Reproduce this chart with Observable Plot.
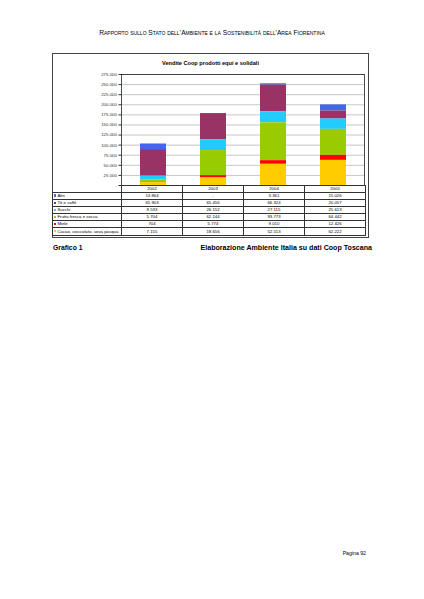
<!DOCTYPE html>
<html>
<head>
<meta charset="utf-8">
<script src="https://cdn.jsdelivr.net/npm/d3@7"></script>
<script src="https://cdn.jsdelivr.net/npm/@observablehq/plot@0.6"></script>
<style>
  html, body { margin: 0; padding: 0; background: #fff; }
  body { width: 424px; height: 599px; position: relative; overflow: hidden; font-family: "Liberation Sans", Arial, sans-serif; color: #000; }
  .abs { position: absolute; }
  #header { top: 28.5px; left: 0; width: 424px; text-align: center; font-size: 6.65px; font-variant: small-caps; white-space: nowrap; }
  #box { left: 52px; top: 53px; width: 317px; height: 185px; border: 1px solid #444; box-sizing: border-box; }
  #title { left: 52px; top: 59.5px; width: 317px; text-align: center; font-weight: bold; font-size: 5.6px; white-space: nowrap; }
  #chart { left: 52px; top: 66px; }
  #tbl { left: 52px; top: 185px; border-collapse: collapse; table-layout: fixed; font-size: 4.3px; }
  #tbl td { border: 0.8px solid #333; padding: 0; height: 6.1px; line-height: 6px; text-align: center; white-space: nowrap; overflow: hidden; }
  #tbl td.lab { text-align: left; padding-left: 1px; }
  #tbl td.blank { border: none; }
  #tbl tr.hdr td { height: 5.6px; }
  .sw { display: inline-block; width: 2.4px; height: 2.4px; margin-right: 1px; vertical-align: 0.2px; }
  #foot1 { left: 53px; top: 244px; font-weight: bold; font-size: 6.8px; }
  #foot2 { right: 52px; top: 244px; font-weight: bold; font-size: 7.1px; white-space: nowrap; }
  #page { right: 58px; top: 550px; font-size: 5.2px; }
</style>
</head>
<body>
<div id="header" class="abs">Rapporto sullo Stato dell’Ambiente e la Sostenibilità dell’Area Fiorentina</div>
<div id="box" class="abs"></div>
<div id="title" class="abs">Vendite Coop prodotti equi e solidali</div>
<div id="chart" class="abs"></div>
<table id="tbl" class="abs"></table>
<div id="foot1" class="abs">Grafico 1</div>
<div id="foot2" class="abs">Elaborazione Ambiente Italia su dati Coop Toscana</div>
<div id="page" class="abs">Pagina 92</div>
<script>
// ---- data ----
const years = ["2002", "2003", "2004", "2005"];
const series = ["Altri", "Tè e caffè", "Succhi", "Frutta fresca e secca", "Miele", "Cacao, cioccolato, uova pasqua"];
const altri  = [13864, null, 3361, 15026];
const teCaffe = [65903, 65456, 66324, 20057];
const succhi = [9533, 26152, 27115, 25613];
const frutta = [5704, 62144, 93773, 64442];
const miele  = [704, 5774, 9010, 12426];
const cacao  = [7155, 18656, 52513, 62222];
const colors = ["#4466EE", "#993366", "#22CCFF", "#99CC00", "#FF0000", "#FFCC00"];
const yTicks = [0, 25000, 50000, 75000, 100000, 125000, 150000, 175000, 200000, 225000, 250000, 275000];

const valuesBySeries = [altri, teCaffe, succhi, frutta, miele, cacao];
const rows = [];
series.forEach((s, i) => years.forEach((y, j) => {
  rows.push({series: s, year: y, value: valuesBySeries[i][j] ?? 0});
}));

const fmt = v => v == null ? "-" : (v === 0 ? "-" : d3.format(",")(v).replace(/,/g, "."));
const stackOrder = series.slice().reverse();

const chart = Plot.plot({
  width: 317,
  height: 119,
  marginLeft: 69,
  marginRight: 5,
  marginTop: 8,
  marginBottom: 0,
  style: {background: "transparent", fontFamily: "Liberation Sans, Arial, sans-serif", fontSize: "4.4px", color: "#333", overflow: "visible"},
  x: {domain: years, paddingInner: 0.57, paddingOuter: 0.285, axis: null},
  y: {domain: [0, 275000], ticks: yTicks, tickFormat: fmt, label: null, tickSize: 2.5, tickPadding: 2},
  color: {domain: series, range: colors},
  marks: [
    Plot.gridY(yTicks, {stroke: "#888", strokeOpacity: 0.6, strokeWidth: 0.8}),
    Plot.barY(rows, Plot.stackY({order: stackOrder}, {x: "year", y: "value", z: "series", fill: "series"})),
    Plot.frame({stroke: "#222", strokeWidth: 0.8})
  ]
});
document.getElementById("chart").appendChild(chart);

// ---- data table ----
const tbl = document.getElementById("tbl");
let html = '<colgroup><col style="width:69px">' + years.map(() => '<col style="width:61px">').join("") + '</colgroup>';
html += '<tr class="hdr"><td class="blank"></td>' + years.map(y => `<td>${y}</td>`).join("") + '</tr>';
series.forEach((s, i) => {
  html += `<tr><td class="lab"><span class="sw" style="background:${colors[i]}"></span>${s}</td>` +
    valuesBySeries[i].map(v => `<td>${fmt(v)}</td>`).join("") + '</tr>';
});
tbl.innerHTML = html;
</script>
</body>
</html>
